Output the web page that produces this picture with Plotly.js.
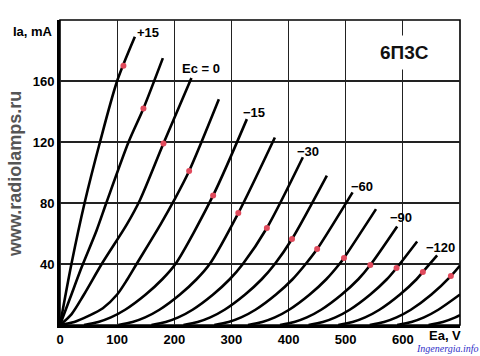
<!DOCTYPE html>
<html>
<head>
<meta charset="utf-8">
<script src="https://cdn.plot.ly/plotly-3.0.1.min.js"></script>
<style>html,body{margin:0;padding:0;background:#fff;}#chart{width:480px;height:356px;}</style>
</head>
<body>
<div id="chart"></div>
<script>
// Anode characteristics of 6П3С: Ea (V) vs Ia (mA), one curve per grid voltage Ec (V)
const gridVolts = [15, 7.5, 0, -7.5, -15, -22.5, -30, -45, -60, -75, -90, -105, -120, -135, -150, -165];

const ea_c1 = [0, 20, 43, 70, 100, 131];
const ia_c1 = [0, 40, 80, 120, 160, 189];
const ea_c2 = [0, 18, 38, 64, 81, 120, 146, 180];
const ia_c2 = [0, 18, 38, 62, 80, 120, 142, 175];
const ea_c3 = [0, 20, 42, 73, 117, 140, 181, 230];
const ia_c3 = [0, 7, 20, 40, 66, 82, 119, 162];
const ea_c4 = [0, 25, 50, 75, 100, 118, 134, 176, 200, 226, 278];
const ia_c4 = [0, 2, 6, 11, 20, 30, 40, 66, 82, 101, 148];
const ea_c5 = [42, 67, 89, 114, 150, 179, 202, 268, 327];
const ia_c5 = [0, 2, 5, 10, 20, 30, 40, 85, 135];
const ea_c6 = [102, 127, 149, 174, 210, 239, 262, 312, 376];
const ia_c6 = [0, 2, 5, 10, 20, 30, 40, 73.4, 123];
const ea_c7 = [160, 185, 207, 232, 268, 297, 320, 362, 425];
const ia_c7 = [0, 2, 5, 10, 20, 30, 40, 63.6, 110];
const ea_c8 = [216, 241, 263, 288, 324, 353, 376, 406, 467];
const ia_c8 = [0, 2, 5, 10, 20, 30, 40, 56.4, 98];
const ea_c9 = [270, 295, 317, 342, 378, 407, 430, 450, 512];
const ia_c9 = [0, 2, 5, 10, 20, 30, 40, 49.8, 87];
const ea_c10 = [329, 354, 376, 401, 437, 466, 489, 497, 553];
const ia_c10 = [0, 2, 5, 10, 20, 30, 40, 44, 76];
const ea_c11 = [385, 410, 432, 457, 493, 522, 543, 590];
const ia_c11 = [0, 2, 5, 10, 20, 30, 39.3, 64.6];
const ea_c12 = [435, 460, 482, 507, 543, 572, 589, 625];
const ia_c12 = [0, 2, 5, 10, 20, 30, 37.4, 54.8];
const ea_c13 = [487, 512, 534, 559, 595, 624, 635, 660];
const ia_c13 = [0, 2, 5, 10, 20, 30, 34.8, 45.6];
const ea_c14 = [542, 567, 589, 614, 650, 684, 700];
const ia_c14 = [0, 2, 5, 10, 20, 32.1, 39];
const ea_c15 = [590, 615, 637, 662, 700];
const ia_c15 = [0, 2, 5, 10, 20];
const ea_c16 = [645, 670, 692, 700];
const ia_c16 = [0, 2, 5, 6.5];

// Maximum anode dissipation points (red dots)
const dotEa = [111, 146, 181, 226, 268, 312, 362, 406, 450, 497, 543, 589, 635, 684];
const dotIa = [170, 142, 119, 101, 85, 73.4, 63.6, 56.4, 49.8, 44, 39.3, 37.4, 34.8, 32.1];

// Axis ticks
const xTickVals = [0, 100, 200, 300, 400, 500, 600];
const xTickText = ['0', '100', '200', '300', '400', '500', '600'];
const yTickVals = [40, 80, 120, 160];
const yTickText = ['40', '80', '120', '160'];

const eaCurves = [ea_c1, ea_c2, ea_c3, ea_c4, ea_c5, ea_c6, ea_c7, ea_c8, ea_c9, ea_c10, ea_c11, ea_c12, ea_c13, ea_c14, ea_c15, ea_c16];
const iaCurves = [ia_c1, ia_c2, ia_c3, ia_c4, ia_c5, ia_c6, ia_c7, ia_c8, ia_c9, ia_c10, ia_c11, ia_c12, ia_c13, ia_c14, ia_c15, ia_c16];

const traces = eaCurves.map((ea, i) => ({
  x: ea, y: iaCurves[i], type: 'scatter', mode: 'lines',
  name: 'Ec = ' + gridVolts[i],
  line: {color: '#000', width: 2.6, shape: 'spline', smoothing: 0.8},
  hoverinfo: 'skip'
}));
traces.push({
  x: dotEa, y: dotIa, type: 'scatter', mode: 'markers', name: 'Pa max',
  marker: {color: '#e04a5c', size: 6, line: {width: 0}}
});

const F = 'Liberation Sans, Arial, Helvetica, sans-serif';
const lab = (x, y, t) => ({x: x, y: y, xref: 'x', yref: 'y', text: t, showarrow: false,
  font: {family: F, size: 13, color: '#000', weight: 'bold'}});

const layout = {
  width: 480, height: 356,
  margin: {l: 60, r: 20, t: 20, b: 31},
  paper_bgcolor: '#fff', plot_bgcolor: '#fff',
  showlegend: false,
  xaxis: {
    range: [0, 700], tickvals: xTickVals, ticktext: xTickText,
    showgrid: true, gridcolor: '#222', gridwidth: 1.2,
    zeroline: false, showline: true, linecolor: '#000', linewidth: 3,
    ticks: '', tickfont: {family: F, size: 13, color: '#000', weight: 'bold'},
    fixedrange: true
  },
  yaxis: {
    range: [0, 200], tickvals: yTickVals, ticktext: yTickText,
    showgrid: true, gridcolor: '#222', gridwidth: 1.2,
    zeroline: false, showline: true, linecolor: '#000', linewidth: 3,
    ticks: '', tickfont: {family: F, size: 13, color: '#000', weight: 'bold'},
    fixedrange: true
  },
  shapes: [
    {type: 'rect', xref: 'paper', yref: 'paper', x0: 0, x1: 1, y0: 0, y1: 1,
     line: {color: '#000', width: 1.6}, layer: 'below'}
  ],
  annotations: [
    lab(154, 192, '+15'),
    lab(247, 168.5, 'Ec = 0'),
    lab(339.5, 139.3, '\u221215'),
    lab(434, 114.1, '\u221230'),
    lab(528.5, 91.1, '\u221260'),
    lab(597, 70.2, '\u221290'),
    lab(665, 50.5, '\u2212120'),
    {x: 603, y: 178.7, xref: 'x', yref: 'y', text: '6\u041f3\u0421', showarrow: false,
     bgcolor: '#fff', borderpad: 6,
     font: {family: F, size: 19, color: '#111', weight: 'bold'}},
    {x: -0.0675, y: 0.9607, xref: 'paper', yref: 'paper', xanchor: 'center', yanchor: 'middle',
     text: 'Ia, mA', showarrow: false,
     font: {family: F, size: 13, color: '#000', weight: 'bold'}},
    {x: 674, y: -0.036, xref: 'x', yref: 'paper', xanchor: 'center', yanchor: 'middle',
     text: 'Ea, V', showarrow: false,
     font: {family: F, size: 13, color: '#000', weight: 'bold'}},
    {x: -0.1125, y: 0.495, xref: 'paper', yref: 'paper', xanchor: 'center', yanchor: 'middle',
     text: 'www.radiolamps.ru', showarrow: false,
     textangle: -90, font: {family: F, size: 18, color: '#555', weight: 'bold'}},
    {x: 0.9675, y: -0.098, xref: 'paper', yref: 'paper', xanchor: 'center', yanchor: 'bottom',
     text: '<i>Ingenergia.info</i>', showarrow: false, borderpad: 0,
     font: {family: 'Liberation Serif, serif', size: 10, color: '#3030c8'}}
  ]
};

Plotly.newPlot('chart', traces, layout, {displayModeBar: false, staticPlot: true});
</script>
</body>
</html>
